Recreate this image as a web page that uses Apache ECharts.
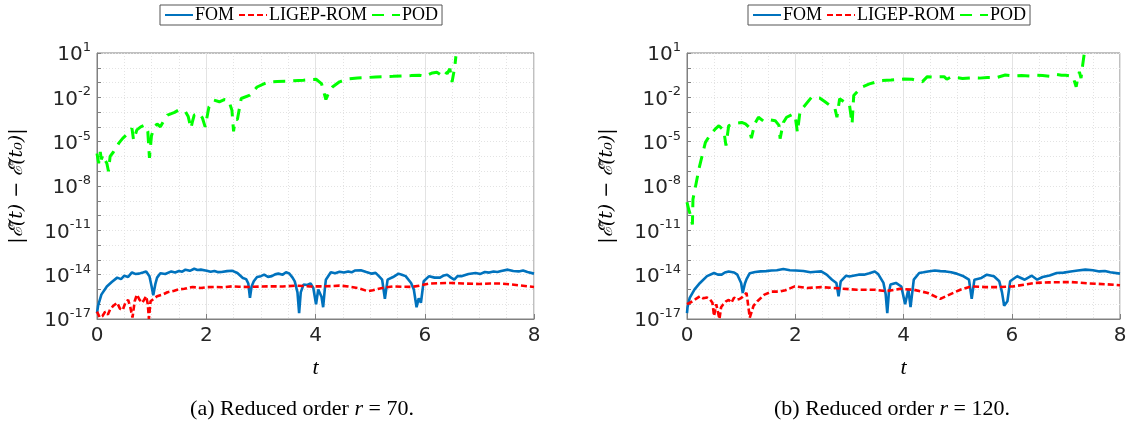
<!DOCTYPE html>
<html><head><meta charset="utf-8">
<script src="https://cdn.jsdelivr.net/npm/echarts@6/dist/echarts.min.js"></script>
<style>html,body{margin:0;padding:0;background:#fff}#c{width:1132px;height:427px}</style>
</head><body><div id="c"></div>
<script>
// ---- data (y stored as log10 of |E(t)-E(t0)|) ----
const seriesNames = ['FOM', 'LIGEP-ROM', 'POD'];
const xTicks = [0, 2, 4, 6, 8];
const yDecades = [-17,-16,-15,-14,-13,-12,-11,-10,-9,-8,-7,-6,-5,-4,-3,-2,-1,0,1];
const yLabelDecades = [-17, -14, -11, -8, -5, -2, 1];
const captions = ['(a) Reduced order ', '(b) Reduced order '];
const captionR = ['70', '120'];

// (a) r = 70
const tFomA = [0,0.02,0.08,0.18,0.27,0.37,0.44,0.5,0.57,0.64,0.7,0.77,0.84,0.9,0.96,1.0,1.03,1.07,1.1,1.16,1.25,1.36,1.43,1.5,1.56,1.62,1.7,1.78,1.84,1.9,2.01,2.08,2.15,2.22,2.28,2.38,2.47,2.57,2.67,2.73,2.77,2.8,2.83,2.87,2.93,3.0,3.06,3.13,3.2,3.26,3.32,3.4,3.46,3.52,3.58,3.62,3.67,3.7,3.73,3.78,3.85,3.91,3.96,4.01,4.05,4.08,4.11,4.14,4.17,4.19,4.28,4.36,4.44,4.52,4.6,4.66,4.72,4.83,4.93,5.03,5.1,5.16,5.22,5.27,5.32,5.42,5.52,5.58,5.65,5.75,5.8,5.85,5.89,5.93,5.98,6.08,6.18,6.28,6.35,6.41,6.48,6.54,6.6,6.67,6.8,6.93,7.02,7.1,7.18,7.26,7.33,7.4,7.52,7.62,7.72,7.8,7.88,8.0];
const lgFomA = [-16.6,-16.1,-15.35,-14.8,-14.5,-14.2,-14.3,-14.07,-14.15,-13.85,-13.95,-13.93,-13.85,-13.78,-14.1,-14.8,-15.4,-14.6,-14.2,-13.9,-13.95,-13.78,-13.85,-13.75,-13.8,-13.66,-13.74,-13.6,-13.68,-13.66,-13.73,-13.8,-13.75,-13.83,-13.82,-13.76,-13.73,-13.89,-14.22,-14.3,-14.6,-15.57,-14.8,-14.45,-14.16,-14.1,-14.0,-14.15,-14.1,-13.98,-13.93,-14.0,-13.84,-13.92,-14.2,-14.45,-15.2,-16.6,-15.2,-14.67,-14.7,-14.6,-14.9,-16.0,-15.0,-15.0,-15.5,-16.2,-15.0,-14.34,-13.84,-13.9,-13.8,-13.86,-13.78,-13.84,-13.72,-13.7,-13.82,-13.93,-13.88,-14.1,-14.34,-15.64,-14.34,-14.16,-13.93,-14.0,-14.1,-14.56,-15.0,-16.2,-15.6,-15.9,-14.45,-14.1,-14.2,-14.2,-14.05,-14.0,-14.2,-14.34,-14.1,-14.1,-13.95,-13.89,-13.95,-13.82,-13.86,-13.78,-13.82,-13.75,-13.66,-13.75,-13.78,-13.72,-13.82,-13.93];
const tRomA = [0,0.05,0.1,0.15,0.2,0.24,0.3,0.37,0.42,0.47,0.52,0.57,0.61,0.65,0.69,0.73,0.78,0.83,0.9,0.93,0.95,0.98,1.0,1.1,1.2,1.29,1.4,1.49,1.6,1.75,1.9,2.0,2.14,2.3,2.47,2.6,2.8,3.0,3.2,3.4,3.65,3.9,4.1,4.3,4.44,4.6,4.77,4.96,5.05,5.16,5.3,5.42,5.6,5.75,5.9,6.08,6.25,6.48,6.7,7.0,7.2,7.39,7.55,7.72,8.0];
const lgRomA = [-16.5,-16.9,-16.8,-16.5,-16.7,-16.36,-16.1,-15.9,-16.3,-16.4,-15.9,-15.7,-16.2,-16.9,-15.8,-15.35,-15.7,-15.9,-15.46,-16.0,-17.0,-15.8,-15.7,-15.46,-15.35,-15.19,-15.1,-15.0,-14.95,-14.83,-14.9,-14.85,-14.83,-14.85,-14.79,-14.82,-14.83,-14.8,-14.79,-14.8,-14.74,-14.8,-14.79,-14.77,-14.74,-14.8,-14.9,-15.12,-15.05,-14.95,-14.85,-14.79,-14.82,-14.83,-14.75,-14.6,-14.58,-14.56,-14.6,-14.63,-14.6,-14.6,-14.65,-14.72,-14.83];
const tPodA = [0,0.03,0.06,0.08,0.11,0.14,0.18,0.21,0.24,0.3,0.34,0.4,0.47,0.55,0.64,0.67,0.73,0.8,0.87,0.93,0.96,0.997,1.05,1.1,1.16,1.22,1.29,1.42,1.49,1.56,1.62,1.67,1.72,1.75,1.78,1.88,1.93,1.98,2.05,2.14,2.24,2.33,2.41,2.47,2.5,2.53,2.57,2.64,2.8,2.93,3.13,3.3,3.46,3.6,3.78,3.9,4.01,4.11,4.19,4.25,4.31,4.44,4.6,4.77,4.95,5.1,5.25,5.42,5.6,5.75,5.9,6.0,6.14,6.22,6.28,6.34,6.41,6.46,6.5,6.55,6.57];
const lgPodA = [-5.8,-6.46,-5.7,-6.2,-5.9,-6.2,-6.46,-7.0,-6.0,-5.7,-5.45,-5.1,-4.78,-4.5,-4.1,-4.9,-4.2,-4.0,-3.88,-4.3,-6.1,-4.6,-4.0,-3.8,-3.99,-3.6,-3.2,-3.02,-2.87,-2.9,-2.98,-3.3,-4.1,-3.6,-3.2,-3.1,-3.4,-4.0,-2.64,-2.19,-2.3,-2.15,-2.2,-2.87,-4.3,-3.5,-3.5,-2.08,-1.85,-1.3,-0.96,-0.93,-0.91,-0.88,-0.84,-0.8,-0.78,-1.07,-2.15,-1.6,-1.3,-0.95,-0.75,-0.69,-0.66,-0.62,-0.6,-0.58,-0.55,-0.53,-0.5,-0.58,-0.35,-0.3,-0.45,-0.17,-0.4,-0.06,-0.96,0.06,0.78];

// (b) r = 120
const tFomB = [0,0.01,0.05,0.14,0.24,0.37,0.5,0.57,0.64,0.7,0.77,0.87,0.93,1.0,1.03,1.07,1.1,1.16,1.26,1.36,1.46,1.56,1.66,1.78,1.9,2.01,2.15,2.28,2.38,2.48,2.58,2.68,2.76,2.8,2.84,2.94,3.0,3.07,3.17,3.27,3.37,3.47,3.53,3.63,3.67,3.7,3.73,3.76,3.86,3.96,4.03,4.09,4.13,4.19,4.29,4.37,4.45,4.58,4.68,4.78,4.88,4.98,5.11,5.21,5.26,5.31,5.44,5.54,5.67,5.77,5.82,5.86,5.92,5.97,6.1,6.24,6.37,6.47,6.57,6.7,6.83,6.96,7.09,7.22,7.36,7.5,7.62,7.72,7.82,8.0];
const lgFomB = [-16.6,-16.2,-15.57,-15.0,-14.56,-14.1,-13.89,-14.0,-14.0,-13.85,-13.78,-13.85,-14.0,-14.56,-15.24,-14.6,-14.3,-13.9,-13.82,-13.78,-13.76,-13.72,-13.7,-13.62,-13.7,-13.72,-13.75,-13.84,-13.8,-13.78,-14.0,-14.34,-14.56,-15.46,-14.45,-14.07,-14.12,-14.07,-14.0,-14.0,-13.9,-13.78,-13.95,-14.56,-15.3,-16.6,-15.2,-14.67,-14.56,-14.8,-16.0,-14.99,-16.2,-14.34,-13.89,-13.84,-13.78,-13.72,-13.76,-13.78,-13.84,-13.93,-14.11,-14.34,-15.64,-14.34,-14.22,-14.0,-14.11,-14.45,-15.2,-16.1,-15.8,-14.45,-14.11,-14.34,-14.07,-14.34,-14.16,-14.05,-13.89,-13.86,-13.78,-13.72,-13.66,-13.7,-13.78,-13.75,-13.84,-13.93];
const tRomB = [0,0.05,0.11,0.18,0.24,0.3,0.37,0.43,0.47,0.5,0.54,0.57,0.6,0.63,0.67,0.72,0.77,0.82,0.87,0.92,0.97,1.03,1.1,1.16,1.23,1.3,1.43,1.56,1.69,1.82,1.99,2.22,2.48,2.81,3.14,3.47,3.67,3.93,4.19,4.45,4.68,4.85,5.05,5.25,5.51,5.77,6.03,6.23,6.43,6.69,7.09,7.42,7.75,8.0];
const lgRomB = [-16.0,-15.9,-15.8,-15.6,-15.46,-15.6,-15.55,-15.7,-15.9,-16.8,-16.0,-15.9,-17.0,-16.2,-16.0,-15.8,-15.7,-15.9,-15.55,-15.7,-15.65,-15.5,-15.24,-16.9,-16.1,-15.8,-15.35,-15.15,-15.15,-15.05,-14.79,-14.9,-14.84,-14.93,-15.02,-15.02,-15.12,-14.96,-15.02,-15.24,-15.64,-15.35,-15.02,-14.79,-14.84,-14.84,-14.79,-14.68,-14.56,-14.52,-14.5,-14.59,-14.65,-14.72];
const tPodB = [0,0.03,0.067,0.1,0.11,0.16,0.22,0.28,0.34,0.4,0.46,0.52,0.59,0.68,0.72,0.77,0.9,1.01,1.08,1.14,1.19,1.25,1.32,1.41,1.5,1.63,1.7,1.72,1.78,1.84,1.96,2.0,2.04,2.09,2.15,2.3,2.45,2.55,2.63,2.73,2.77,2.82,2.9,3.0,3.05,3.08,3.22,3.37,3.58,3.77,4.01,4.16,4.35,4.44,4.53,4.75,4.8,4.88,5.09,5.25,5.4,5.55,5.71,5.88,6.02,6.18,6.33,6.45,6.57,6.7,6.82,6.92,7.0,7.08,7.13,7.19,7.22,7.25,7.28,7.31,7.34];
const lgPodB = [-9.1,-9.56,-10.0,-10.6,-8.9,-7.98,-6.85,-5.95,-5.05,-4.7,-4.41,-4.15,-3.92,-4.25,-5.27,-3.92,-3.75,-3.7,-3.8,-4.0,-4.77,-3.8,-3.35,-3.6,-3.5,-3.58,-3.9,-4.8,-3.7,-3.35,-3.13,-3.3,-4.37,-2.9,-2.67,-2.0,-2.04,-2.3,-2.52,-2.7,-3.35,-2.1,-2.3,-2.45,-3.8,-1.88,-1.32,-1.09,-0.87,-0.83,-0.76,-0.78,-0.94,-0.6,-0.62,-0.6,-0.78,-0.62,-0.72,-0.68,-0.7,-0.66,-0.67,-0.49,-0.55,-0.52,-0.55,-0.5,-0.52,-0.57,-0.45,-0.5,-0.5,-0.55,-0.6,-1.28,-0.7,-0.27,-0.7,0.18,0.97];

// ---- chart ----
const colors = {FOM: '#0072BD', 'LIGEP-ROM': '#FF0000', POD: '#00FF00'};
const toPts = (t, lg) => t.map((x, i) => [x, Math.pow(10, lg[i])]);
const grids = [
  {left: 97, right: 598, top: 53, bottom: 108},
  {left: 687, right: 12, top: 53, bottom: 108}
];
const supFmt = v => '{b|10}{s|' + Math.round(Math.log10(v)) + '}';
const tickFont = 'DejaVu Sans';
const serif = 'Liberation Serif';

const xAxes = grids.map((g, i) => ({
  gridIndex: i, type: 'value', min: 0, max: 8, interval: 2,
  axisLine: {show: true, lineStyle: {color: '#808080', width: 1}},
  axisTick: {inside: true, length: 5, lineStyle: {color: '#808080'}},
  minorTick: {show: true, splitNumber: 4, length: 0},
  splitLine: {show: true, lineStyle: {color: '#e3e3e3', width: 1}},
  minorSplitLine: {show: true, lineStyle: {color: '#e3e3e3', type: [1, 2], width: 1}},
  axisLabel: {fontFamily: tickFont, fontSize: 20, color: '#262626', margin: 7,
    customValues: xTicks},
  name: 't', nameLocation: 'middle', nameGap: 38,
  nameTextStyle: {fontFamily: serif, fontStyle: 'italic', fontSize: 22, color: '#000'}
}));
const yAxes = grids.map((g, i) => ({
  gridIndex: i, type: 'log', logBase: 10, min: 1e-17, max: 10,
  axisLine: {show: true, lineStyle: {color: '#808080', width: 1}},
  axisTick: {show: true, inside: true, length: 4, lineStyle: {color: '#808080'},
    customValues: yDecades.map(e => Math.pow(10, e))},
  splitLine: {show: true, lineStyle: {color: '#e3e3e3', type: [1, 2], width: 1}},
  axisLabel: {
    customValues: yLabelDecades.map(e => Math.pow(10, e)),
    formatter: supFmt, margin: 6, color: '#262626',
    rich: {
      b: {fontFamily: tickFont, fontSize: 20, color: '#262626', lineHeight: 24, verticalAlign: 'bottom'},
      s: {fontFamily: tickFont, fontSize: 13, color: '#262626', lineHeight: 24, verticalAlign: 'top'}
    }
  },
  name: '|ℰ̄(t) − ℰ̄(t₀)|', nameLocation: 'middle', nameGap: 70, nameRotate: 90,
  nameTextStyle: {fontFamily: 'DejaVu Serif', fontStyle: 'italic', fontSize: 19, color: '#000'}
}));

const data = [
  {FOM: [tFomA, lgFomA], 'LIGEP-ROM': [tRomA, lgRomA], POD: [tPodA, lgPodA]},
  {FOM: [tFomB, lgFomB], 'LIGEP-ROM': [tRomB, lgRomB], POD: [tPodB, lgPodB]}
];
const styles = {
  FOM: {type: 'solid', width: 2.6},
  'LIGEP-ROM': {type: [6, 3], width: 2.6},
  POD: {type: [12, 8], width: 3}
};
const series = [];
data.forEach((d, i) => {
  seriesNames.forEach(n => {
    series.push({
      name: n, type: 'line', xAxisIndex: i, yAxisIndex: i,
      showSymbol: false, symbol: 'none', clip: true, z: n === 'POD' ? 3 : (n === 'FOM' ? 2 : 4),
      color: colors[n],
      lineStyle: Object.assign({color: colors[n]}, styles[n]),
      data: toPts(d[n][0], d[n][1])
    });
  });
});

const legendCommon = {
  data: seriesNames, top: 5, orient: 'horizontal',
  backgroundColor: '#fff', borderColor: '#555', borderWidth: 1, borderRadius: 0,
  padding: [1, 4, 1, 4], itemGap: 4, itemWidth: 28, itemHeight: 14,
  selectedMode: false,
  itemStyle: {opacity: 0},
  textStyle: {fontFamily: serif, fontSize: 18, color: '#000', padding: [0, 0, 0, -3]}
};
const option = {
  animation: false,
  backgroundColor: '#fff',
  grid: grids.map(g => Object.assign({show: true, borderColor: '#808080', borderWidth: 1, backgroundColor: 'transparent'}, g)),
  xAxis: xAxes, yAxis: yAxes, series,
  legend: [
    Object.assign({}, legendCommon, {left: 160}),
    Object.assign({}, legendCommon, {left: 748})
  ],
  title: captions.map((c, i) => ({
    text: '{n|' + c + '}{i|r}{n| = ' + captionR[i] + '.}',
    left: i === 0 ? 297 : 887, top: 393, textAlign: 'center',
    textStyle: {fontWeight: 'normal', rich: {
      n: {fontFamily: serif, fontSize: 22, fontWeight: 'normal', color: '#000'},
      i: {fontFamily: serif, fontSize: 22, fontStyle: 'italic', fontWeight: 'normal', color: '#000'}
    }}
  }))
};
const chart = echarts.init(document.getElementById('c'), null, {renderer: 'canvas'});
chart.setOption(option);
</script></body></html>
